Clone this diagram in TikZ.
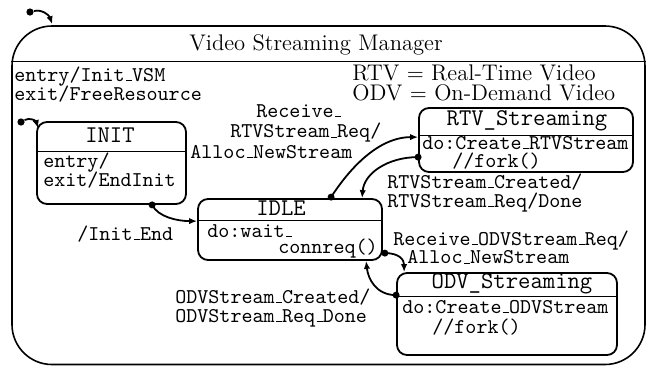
\documentclass[tikz,border=0pt]{standalone}
\usetikzlibrary{arrows.meta,fit,calc}
\newcommand{\lowus}{\leavevmode\kern.06em\vbox{\hrule width.3em}}
\newcommand{\lns}[2]{\vtop{\baselineskip=#1\lineskiplimit=-\maxdimen\lineskip=0pt\halign{##\hfil\cr#2\crcr}}}
\tikzset{
  outerbox/.style={draw, line width=0.8pt, rounded corners=20pt, inner sep=0pt},
  statebox/.style={draw, line width=0.9pt, rounded corners=5pt, inner sep=0pt},
  sepline/.style={line width=0.6pt},
  conn/.style={line width=0.9pt, -{Latex[length=4pt,width=3.2pt]}},
  dotnode/.style={circle, fill, inner sep=0pt, minimum size=3.6pt},
  body/.style={font=\fontsize{10.5}{12}\selectfont\ttfamily, inner sep=0pt, anchor=base west},
  stitle/.style={font=\fontsize{12}{14}\selectfont\ttfamily, inner sep=0pt, anchor=base},
  rm/.style={font=\fontsize{11.3}{13}\selectfont, inner sep=0pt},
}
\begin{document}
\begin{tikzpicture}[x=0.5pt,y=-0.5pt]
\useasboundingbox (0,0) rectangle (649,366);

% outer composite state
\node[outerbox, fit={(12,26) (645,364.5)}] (vsm) {};
\draw[sepline] ($(vsm.north west)+(0,36)$) coordinate (hsl) -- ($(vsm.north east)+(0,36)$) coordinate (hsr);
\node[rm, anchor=base] (vsmtitle) at (316,50) {Video Streaming Manager};
\node[rm, anchor=base west] (legend) at (352,80) {\lns{10pt}{RTV $=$ Real-Time Video\cr ODV $=$ On-Demand Video}};
\node[body] (vsmact) at (14,81) {\lns{9.5pt}{entry/Init\lowus VSM\cr exit/FreeResource}};

% states
\node[statebox, fit={(37,122) (186,204)}] (init) {};
\draw[sepline] ($(init.north west)+(0,30)$) -- ($(init.north east)+(0,30)$);
\node[stitle] (inittitle) at (110,142) {INIT};
\node[body] (initact) at (43,167) {\lns{9.5pt}{entry/\cr exit/EndInit}};

\node[statebox, fit={(198,199) (382,260)}] (idle) {};
\draw[sepline] ($(idle.north west)+(0,22)$) -- ($(idle.north east)+(0,22)$);
\node[stitle] (idletitle) at (281,215) {IDLE};
\node[body] (idleact) at (207,237) {\lns{8pt}{do:wait\lowus\cr \hspace*{35.5pt}connreq()}};

\node[statebox, fit={(419,108) (633,172)}] (rtv) {};
\draw[sepline] ($(rtv.north west)+(0,28)$) -- ($(rtv.north east)+(0,28)$);
\node[stitle] (rtvtitle) at (527,125) {RTV\_Streaming};
\node[body] (rtvact) at (422,149) {\lns{9pt}{do:Create\lowus RTVStream\cr \hspace*{15pt}//fork()}};

\node[statebox, fit={(397,273) (617,355)}] (odv) {};
\draw[sepline] ($(odv.north west)+(0,24)$) -- ($(odv.north east)+(0,24)$);
\node[stitle] (odvtitle) at (512,288) {ODV\_Streaming};
\node[body] (odvact) at (402,313) {\lns{10pt}{do:Create\lowus ODVStream\cr \hspace*{15pt}//fork()}};

% initial pseudostates
\node[dotnode] (top0) at (30,12) {};
\node[dotnode] (init0) at (21,122) {};

% transitions
\draw[conn] (top0) .. controls +(12,-3) and +(-3,-9) .. ($(vsm.north west)+(41,-1)$);
\draw[conn] (init0) .. controls +(9,-5) and +(-2,-7) .. ($(init.north west)+(2,7)$);

\draw[conn] ($(init.south west)+(116,0)$) coordinate (a1) .. controls +(6,12) and +(-20,0) .. ($(idle.north west)+(0,23)$);
\fill (a1) circle[radius=3.5];

\draw[conn] ($(idle.north west)+(134,-1)$) coordinate (a2) .. controls +(18,-28) and +(-40,0) .. ($(rtv.north west)+(0,30)$);
\fill (a2) circle[radius=3.5];

\draw[conn] ($(rtv.north west)+(0,50)$) coordinate (a3) .. controls +(-30,0) and +(2,-25) .. ($(idle.north west)+(165,0)$);
\fill (a3) circle[radius=3.5];

\draw[conn] ($(idle.north east)+(2,55)$) coordinate (a4) .. controls +(15,0) and +(0,-12) .. ($(odv.north west)+(8,0)$);
\fill (a4) circle[radius=3.5];

\draw[conn] ($(odv.north west)+(0,23)$) coordinate (a5) .. controls +(-20,0) and +(2,18) .. ($(idle.south west)+(169,0)$);
\fill (a5) circle[radius=3.5];

% transition labels
\node[body] (lblinit) at (77,240) {/Init\lowus End};
\node[body] (lblrtvin) at (190,117) {\lns{10.25pt}{\hspace*{33pt}Receive\lowus\cr \hspace*{20pt}RTVStream\lowus Req/\cr Alloc\lowus NewStream}};
\node[body] (lblrtvout) at (387,188) {\lns{9.5pt}{RTVStream\lowus Created/\cr RTVStream\lowus Req/Done}};
\node[body] (lblodvin) at (393,245) {\lns{9.25pt}{Receive\lowus ODVStream\lowus Req/\cr \hspace*{7pt}Alloc\lowus NewStream}};
\node[body] (lblodvout) at (175,303) {\lns{9.5pt}{ODVStream\lowus Created/\cr ODVStream\lowus Req\lowus Done}};
\end{tikzpicture}
\end{document}
